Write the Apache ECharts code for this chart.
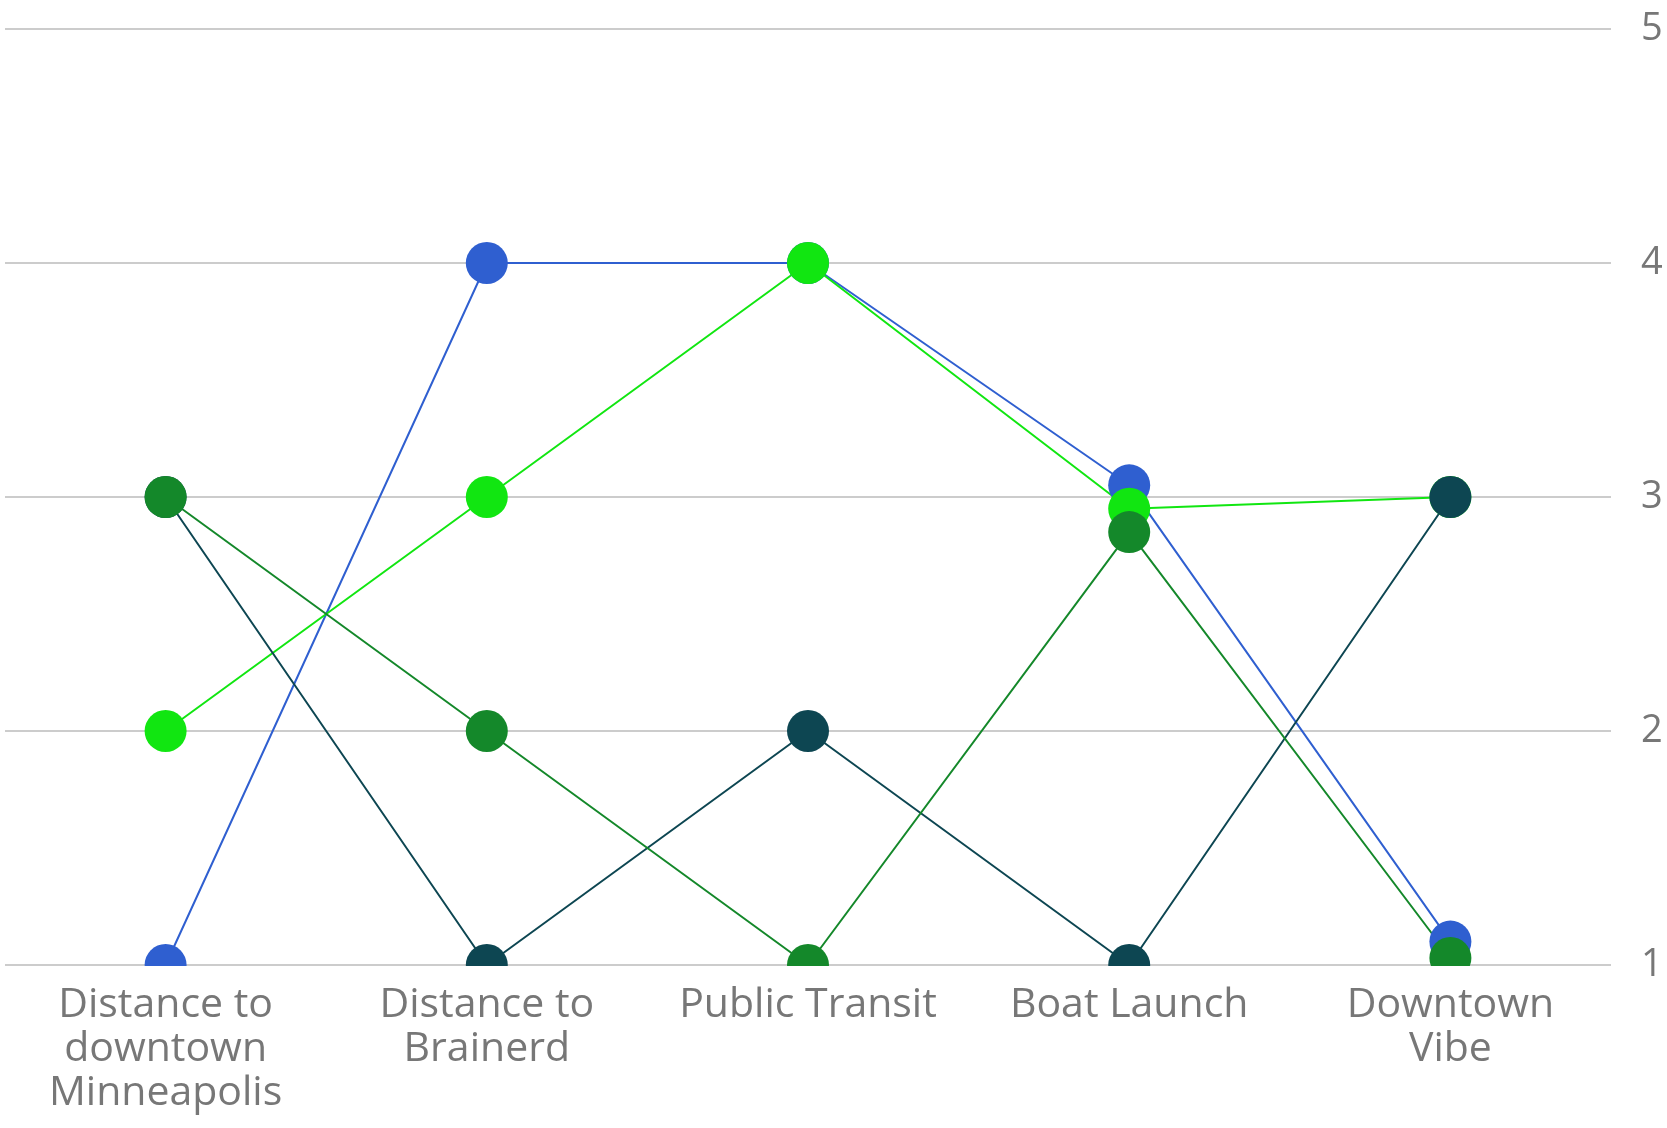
<!DOCTYPE html>
<html>
<head>
<meta charset="utf-8">
<title>Ratings</title>
<script src="https://cdn.jsdelivr.net/npm/echarts@6/dist/echarts.min.js"></script>
<style>
html, body { margin: 0; padding: 0; background: #fff; }
#chart { width: 1667px; height: 1128px; }
</style>
</head>
<body>
<div id="chart"></div>
<script>
// categories (x axis)
var categories = ["Distance to\ndowntown\nMinneapolis", "Distance to\nBrainerd", "Public Transit", "Boat Launch", "Downtown\nVibe"];

// y axis ticks
var yTicks = [1, 2, 3, 4, 5];

// series values
var blueVals = [1, 4, 4, 3.05, 1.1];
var lightGreenVals = [2, 3, 4, 2.95, 3];
var tealVals = [3, 1, 2, 1, 3];
var darkGreenVals = [3, 2, 1, 2.85, 1.03];

var chart = echarts.init(document.getElementById("chart"));

function makeSeries(name, data, color) {
    return {
        name: name,
        type: "line",
        data: data,
        symbol: "circle",
        symbolSize: 42,
        lineStyle: { width: 2, color: color },
        itemStyle: { color: color },
        emphasis: { disabled: true },
        animation: false
    };
}

var option = {
    backgroundColor: "#ffffff",
    grid: { left: 5, right: 56, top: 29, bottom: 163 },
    xAxis: {
        type: "category",
        data: categories,
        boundaryGap: true,
        z: 10,
        axisLine: { show: false },
        axisTick: { show: false },
        axisLabel: {
            interval: 0,
            margin: 18,
            color: "#777777",
            fontFamily: "Open Sans",
            fontSize: 41,
            lineHeight: 44
        }
    },
    yAxis: {
        type: "value",
        position: "right",
        min: yTicks[0],
        max: yTicks[yTicks.length - 1],
        interval: 1,
        axisLine: { show: false },
        axisTick: { show: false },
        splitLine: { lineStyle: { color: "#cccccc", width: 2 } },
        axisLabel: {
            margin: 30,
            color: "#777777",
            fontFamily: "Open Sans",
            fontSize: 38
        }
    },
    series: [
        makeSeries("blue", blueVals, "#2f5fd0"),
        makeSeries("lightgreen", lightGreenVals, "#11e611"),
        makeSeries("teal", tealVals, "#0d4652"),
        makeSeries("darkgreen", darkGreenVals, "#14882a")
    ]
};

chart.setOption(option);

// hide the lower halves of dots sitting on the bottom line (as in the original)
var bottomY = chart.convertToPixel({ yAxisIndex: 0 }, yTicks[0]);
var rightX = chart.convertToPixel({ xAxisIndex: 0 }, categories[categories.length - 1]) + 100;
chart.setOption({
    graphic: [{
        type: "rect",
        z: 5,
        silent: true,
        shape: { x: 0, y: bottomY + 1, width: rightX, height: 60 },
        style: { fill: "#ffffff" }
    }]
});
</script>
</body>
</html>
